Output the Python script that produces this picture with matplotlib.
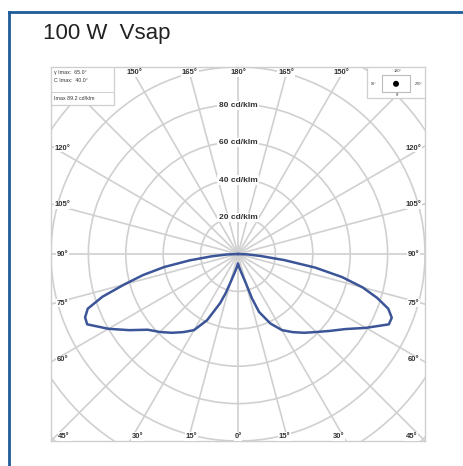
import numpy as np
import matplotlib
matplotlib.use("Agg")
import matplotlib.pyplot as plt
from matplotlib.patches import Rectangle, Circle

plt.rcParams['font.family'] = ['Liberation Sans', 'DejaVu Sans']

# ---------------- data ----------------
title = "100 W  Vsap"
gamma = [0, 5, 10, 15, 17.5, 20, 25, 30, 35, 40, 45, 50, 55, 60, 65, 67.5, 70,
         72.5, 75, 77.5, 80, 82.5, 85, 87.5, 90]
# intensity (cd/klm) on the right half (C0) and left half (C180)
i_right = [5, 7, 10, 16, 25, 33, 41, 47, 51, 55, 59, 64, 70, 79, 89, 89, 85.5,
           78, 69, 57, 42, 25, 12, 5, 0]
i_left = [5, 7, 10, 16, 22, 28, 39, 47, 51, 55, 59, 63, 71, 80, 89, 88.5, 85.5,
          76, 63, 52, 40, 26, 14, 6, 0]
ring_values = [20, 40, 60, 80, 100, 120, 140]
ring_labels = ["20 cd/klm", "40 cd/klm", "60 cd/klm", "80 cd/klm"]
ring_label_values = [20, 40, 60, 80]
bottom_angles = [45, 30, 15, 0, 15, 30, 45]
top_angles = [150, 165, 180, 165, 150]
side_angles = [120, 105, 90, 75, 60]
info_lines = ["\u03b3 Imax:  65.0\u00b0", "C Imax:  40.0\u00b0", "Imax 89.2 cd/klm"]

W, H = 464, 466
fig = plt.figure(figsize=(W / 100, H / 100), dpi=100)
fig.patch.set_facecolor('white')

# blue frame (top & left)
fig.add_artist(plt.Line2D([9 / W, 1.0], [1 - 12 / H, 1 - 12 / H], color='#1f5c99', lw=2.0))
fig.add_artist(plt.Line2D([9 / W, 9 / W], [0, 1 - 12 / H], color='#1f5c99', lw=2.0))

fig.text(43 / W, 1 - 39 / H, title, fontsize=16, color='#222222', va='baseline', ha='left')

ax = fig.add_axes([51 / W, 1 - 441 / H, 374 / W, 374 / H])
ax.set_xlim(-100, 100)
ax.set_ylim(-100, 100)
ax.set_aspect('equal', adjustable='box')
ax.set_xticks([])
ax.set_yticks([])
for s in ax.spines.values():
    s.set_color('#cfcfcf')
    s.set_linewidth(1.0)

gc = '#d0d0d0'
for r in ring_values:
    ax.add_patch(Circle((0, 0), r, fill=False, ec=gc, lw=1.2, zorder=1))
for g in range(0, 360, 15):
    t = np.radians(g)
    ax.plot([0, 160 * np.sin(t)], [0, -160 * np.cos(t)], color=gc, lw=1.2, zorder=1)

# curve
g = np.radians(np.array(gamma))
xr = np.array(i_right) * np.sin(g)
yr = -np.array(i_right) * np.cos(g)
xl = -np.array(i_left) * np.sin(g)
yl = -np.array(i_left) * np.cos(g)
ax.plot(np.concatenate([xl[::-1], xr]), np.concatenate([yl[::-1], yr]),
        color='#3b5598', lw=1.8, zorder=5, solid_joinstyle='round')

lab = dict(fontsize=5.5, color='#333333', fontweight='bold', zorder=6)
for v, t in zip(ring_label_values, ring_labels):
    ax.text(0, v - 0.5, t, ha='center', va='center',
            bbox=dict(boxstyle='square,pad=0.15', fc='white', ec='none'),
            **{**lab, 'fontsize': 6})

# bottom labels
for i, a in enumerate(bottom_angles):
    sgn = -1 if i < 3 else 1
    x = sgn * min(100 * np.tan(np.radians(a)) * 0.93, 96.0)
    ax.text(x, -97.5, f"{a}\u00b0", ha='center', va='center',
            bbox=dict(boxstyle='square,pad=0.1', fc='white', ec='none'), **lab)
# top labels
for i, a in enumerate(top_angles):
    sgn = -1 if i < 2 else 1
    x = sgn * 100 * np.tan(np.radians(180 - a)) * 0.96
    ax.text(x, 96.8, f"{a}\u00b0", ha='center', va='center',
            bbox=dict(boxstyle='square,pad=0.1', fc='white', ec='none'), **lab)
# side labels
for a in side_angles:
    y = 100 * np.tan(np.radians(a - 90)) * 0.98
    for x in (-94.0, 94.0):
        ax.text(x, y, f"{a}\u00b0", ha='center', va='center',
                bbox=dict(boxstyle='square,pad=0.1', fc='white', ec='none'), **lab)

# info box (top-left)
ax.add_patch(Rectangle((-100, 79.5), 33.5, 20.5, fc='white', ec='#cfcfcf', lw=0.9, zorder=7))
ax.plot([-100, -66.5], [86.5, 86.5], color='#cfcfcf', lw=0.7, zorder=8)
info = dict(fontsize=3.8, color='#333333', zorder=9, ha='left', va='center')
ax.text(-98.5, 97, info_lines[0], **info)
ax.text(-98.5, 93, info_lines[1], **info)
ax.text(-98.5, 83, info_lines[2], **info)

# orientation box (top-right)
ax.add_patch(Rectangle((69, 83.5), 31, 16.5, fc='white', ec='#cfcfcf', lw=0.9, zorder=7))
ax.add_patch(Rectangle((77, 86.5), 15, 9, fc='white', ec='#bbbbbb', lw=0.8, zorder=8))
ax.add_patch(Circle((84.5, 91), 1.6, fc='black', ec='none', zorder=9))
small = dict(fontsize=2.8, color='#333333', zorder=9, ha='center', va='center')
ax.text(85.5, 98, "180\u00b0", **small)
ax.text(72.5, 91, "90\u00b0", **small)
ax.text(96.5, 91, "270\u00b0", **small)
ax.text(85.5, 85, "0\u00b0", **small)

fig.savefig('out.png', dpi=100, facecolor='white')
